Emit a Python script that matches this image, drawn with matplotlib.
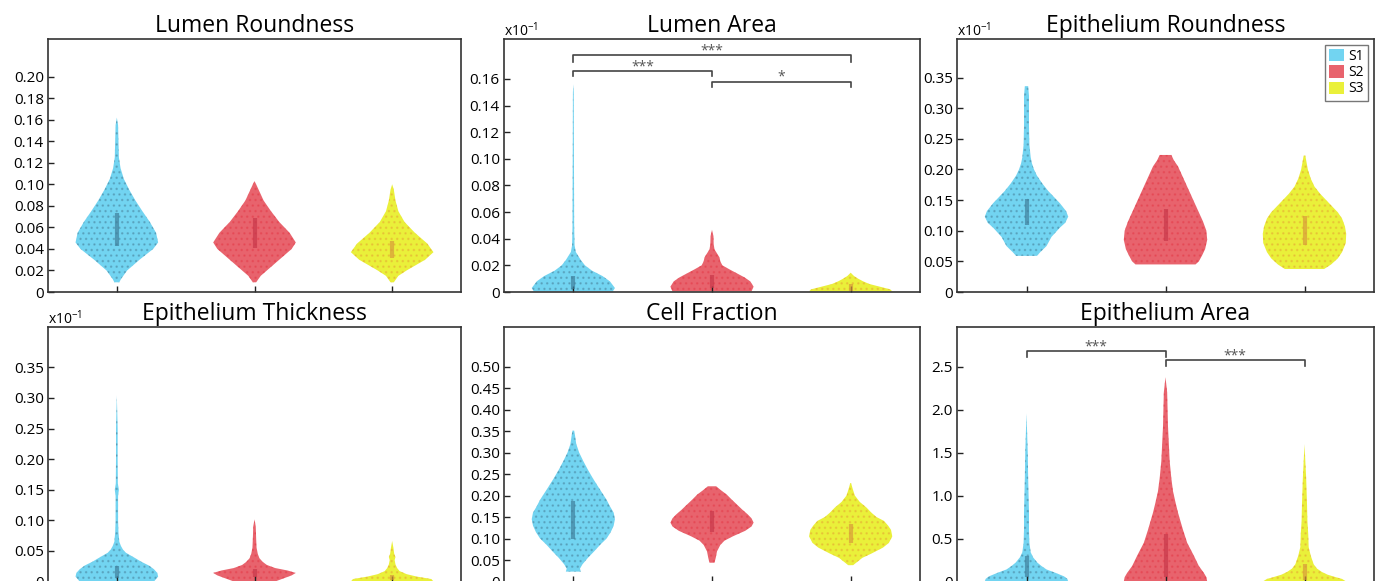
import matplotlib
matplotlib.use("Agg")
import matplotlib.pyplot as plt
from matplotlib.patches import Patch

plt.rcParams['font.family'] = ['Open Sans', 'DejaVu Sans']
plt.rcParams['mathtext.default'] = 'regular'
plt.rcParams['hatch.linewidth'] = 1.0

groups = ['S1', 'S2', 'S3']
colors = ['#72d4f1', '#e8636d', '#eaf03a']
dot_colors = ['#3f6f88', '#e3303f', '#e49532']
bar_colors = ['#3f7f9c', '#c8384a', '#d89a3a']

# violin outlines: (value, relative half width)
lr_s1 = [(0.009, 0.06), (0.012, 0.1), (0.02, 0.25), (0.03, 0.55), (0.04, 0.88), (0.046, 1.0),
         (0.055, 0.95), (0.065, 0.8), (0.075, 0.62), (0.085, 0.45), (0.095, 0.3), (0.105, 0.17),
         (0.115, 0.09), (0.125, 0.05), (0.14, 0.04), (0.155, 0.03), (0.162, 0.0)]
lr_s2 = [(0.009, 0.04), (0.015, 0.15), (0.02, 0.3), (0.03, 0.6), (0.04, 0.9), (0.046, 1.0),
         (0.055, 0.85), (0.065, 0.6), (0.075, 0.4), (0.085, 0.22), (0.095, 0.1), (0.1, 0.04), (0.103, 0.0)]
lr_s3 = [(0.009, 0.04), (0.015, 0.15), (0.02, 0.35), (0.03, 0.8), (0.037, 1.0), (0.045, 0.85),
         (0.055, 0.55), (0.065, 0.3), (0.075, 0.15), (0.085, 0.08), (0.095, 0.04), (0.1, 0.0)]

la_s1 = [(0.0005, 0.95), (0.003, 1.0), (0.008, 0.88), (0.012, 0.7), (0.016, 0.45), (0.02, 0.28),
         (0.024, 0.18), (0.027, 0.12), (0.03, 0.06), (0.035, 0.03), (0.05, 0.02), (0.1, 0.015),
         (0.15, 0.01), (0.156, 0.0)]
la_s2 = [(0.0005, 0.95), (0.004, 1.0), (0.008, 0.92), (0.011, 0.78), (0.014, 0.6), (0.017, 0.42),
         (0.02, 0.25), (0.023, 0.2), (0.026, 0.18), (0.029, 0.12), (0.032, 0.06), (0.036, 0.04),
         (0.042, 0.035), (0.0467, 0.0)]
la_s3 = [(0.0005, 1.0), (0.002, 0.95), (0.004, 0.7), (0.006, 0.45), (0.008, 0.3), (0.010, 0.18),
         (0.012, 0.08), (0.0145, 0.0)]

er_s1 = [(0.059, 0.25), (0.065, 0.33), (0.075, 0.48), (0.09, 0.6), (0.105, 0.8), (0.113, 0.93),
         (0.123, 1.0), (0.132, 0.95), (0.145, 0.8), (0.155, 0.66), (0.165, 0.52), (0.177, 0.38),
         (0.19, 0.25), (0.2, 0.18), (0.21, 0.13), (0.22, 0.1), (0.24, 0.07), (0.27, 0.06),
         (0.3, 0.06), (0.32, 0.06), (0.336, 0.04)]
er_s2 = [(0.045, 0.72), (0.05, 0.8), (0.06, 0.88), (0.07, 0.95), (0.085, 1.0), (0.1, 0.98),
         (0.115, 0.9), (0.13, 0.8), (0.145, 0.7), (0.16, 0.6), (0.175, 0.5), (0.19, 0.4),
         (0.205, 0.3), (0.215, 0.2), (0.2237, 0.14)]
er_s3 = [(0.0375, 0.47), (0.045, 0.64), (0.055, 0.8), (0.065, 0.9), (0.08, 0.99), (0.095, 1.0),
         (0.107, 0.97), (0.12, 0.9), (0.13, 0.8), (0.14, 0.66), (0.15, 0.52), (0.16, 0.38),
         (0.172, 0.24), (0.185, 0.15), (0.2, 0.08), (0.215, 0.04), (0.2227, 0.02)]

et_s1 = [(0.0, 0.9), (0.008, 1.0), (0.014, 0.98), (0.02, 0.9), (0.026, 0.78), (0.032, 0.6),
         (0.04, 0.4), (0.047, 0.22), (0.052, 0.15), (0.058, 0.1), (0.065, 0.06), (0.08, 0.04),
         (0.1, 0.03), (0.14, 0.03), (0.15, 0.05), (0.16, 0.025), (0.2, 0.02), (0.25, 0.02), (0.304, 0.0)]
et_s2 = [(0.0, 0.5), (0.005, 0.7), (0.01, 0.9), (0.014, 1.0), (0.018, 0.8), (0.022, 0.5),
         (0.027, 0.3), (0.032, 0.2), (0.038, 0.12), (0.045, 0.08), (0.055, 0.05), (0.07, 0.04),
         (0.09, 0.03), (0.1016, 0.0)]
et_s3 = [(0.0, 1.0), (0.004, 0.95), (0.008, 0.6), (0.012, 0.35), (0.017, 0.18), (0.022, 0.12),
         (0.028, 0.08), (0.035, 0.06), (0.04, 0.08), (0.045, 0.05), (0.055, 0.03), (0.0663, 0.0)]

cf_s1 = [(0.023, 0.18), (0.03, 0.16), (0.04, 0.22), (0.055, 0.35), (0.07, 0.5), (0.086, 0.65),
         (0.1, 0.8), (0.115, 0.9), (0.13, 0.97), (0.145, 1.0), (0.16, 0.97), (0.175, 0.88),
         (0.19, 0.8), (0.205, 0.7), (0.22, 0.6), (0.24, 0.47), (0.26, 0.35), (0.28, 0.24),
         (0.3, 0.14), (0.32, 0.07), (0.34, 0.04), (0.351, 0.02)]
cf_s2 = [(0.0437, 0.06), (0.055, 0.09), (0.07, 0.12), (0.085, 0.2), (0.095, 0.3), (0.105, 0.5),
         (0.118, 0.8), (0.128, 0.95), (0.137, 1.0), (0.147, 0.95), (0.156, 0.86), (0.167, 0.73),
         (0.179, 0.6), (0.19, 0.48), (0.2026, 0.35), (0.212, 0.22), (0.2215, 0.1)]
cf_s3 = [(0.038, 0.06), (0.045, 0.15), (0.055, 0.28), (0.065, 0.5), (0.079, 0.78), (0.09, 0.92),
         (0.105, 1.0), (0.12, 0.97), (0.13, 0.9), (0.141, 0.8), (0.15, 0.62), (0.16, 0.5),
         (0.172, 0.38), (0.185, 0.22), (0.2, 0.1), (0.215, 0.05), (0.229, 0.01)]

ea_s1 = [(0.0, 1.0), (0.03, 0.98), (0.06, 0.9), (0.1, 0.7), (0.14, 0.48), (0.18, 0.36),
         (0.22, 0.26), (0.28, 0.16), (0.34, 0.1), (0.45, 0.07), (0.6, 0.06), (0.8, 0.06),
         (1.0, 0.05), (1.2, 0.04), (1.5, 0.03), (1.954, 0.0)]
ea_s2 = [(0.0, 1.0), (0.05, 0.98), (0.1, 0.92), (0.18, 0.8), (0.3, 0.68), (0.45, 0.52),
         (0.6, 0.42), (0.7, 0.36), (0.8, 0.3), (0.92, 0.24), (1.05, 0.18), (1.2, 0.14),
         (1.4, 0.1), (1.6, 0.08), (1.8, 0.06), (2.0, 0.05), (2.2, 0.04), (2.375, 0.0)]
ea_s3 = [(0.0, 1.0), (0.03, 0.9), (0.05, 0.75), (0.08, 0.55), (0.11, 0.42), (0.15, 0.3),
         (0.2, 0.22), (0.3, 0.15), (0.4, 0.1), (0.55, 0.09), (0.7, 0.07), (0.9, 0.06),
         (1.2, 0.04), (1.595, 0.0)]

# interquartile bars (low, high) for S1..S3
lr_iqr = [(0.0425, 0.0734), (0.0413, 0.0688), (0.0317, 0.047)]
la_iqr = [(0.002, 0.012), (0.003, 0.013), (0.001, 0.006)]
er_iqr = [(0.109, 0.152), (0.083, 0.135), (0.077, 0.124)]
et_iqr = [(0.006, 0.025), (0.007, 0.02), (0.003, 0.01)]
cf_iqr = [(0.098, 0.187), (0.114, 0.164), (0.09, 0.133)]
ea_iqr = [(0.05, 0.3), (0.05, 0.55), (0.02, 0.2)]

titles = ['Lumen Roundness', 'Lumen Area', 'Epithelium Roundness',
          'Epithelium Thickness', 'Cell Fraction', 'Epithelium Area']
ymax = [0.235, 0.19, 0.413, 0.416, 0.592, 2.96]
yticks = [[0, 0.02, 0.04, 0.06, 0.08, 0.10, 0.12, 0.14, 0.16, 0.18, 0.20],
          [0, 0.02, 0.04, 0.06, 0.08, 0.10, 0.12, 0.14, 0.16],
          [0, 0.05, 0.10, 0.15, 0.20, 0.25, 0.30, 0.35],
          [0, 0.05, 0.10, 0.15, 0.20, 0.25, 0.30, 0.35],
          [0, 0.05, 0.10, 0.15, 0.20, 0.25, 0.30, 0.35, 0.40, 0.45, 0.50],
          [0, 0.5, 1.0, 1.5, 2.0, 2.5]]
tick_fmt = ['%.2f', '%.2f', '%.2f', '%.2f', '%.2f', '%.1f']
show_exp = [False, True, True, True, False, False]

violins = [[lr_s1, lr_s2, lr_s3], [la_s1, la_s2, la_s3], [er_s1, er_s2, er_s3],
           [et_s1, et_s2, et_s3], [cf_s1, cf_s2, cf_s3], [ea_s1, ea_s2, ea_s3]]
iqrs = [lr_iqr, la_iqr, er_iqr, et_iqr, cf_iqr, ea_iqr]

# significance brackets: (panel, x1, x2, y line, y drop, stars)
brackets = [(1, 1, 3, 0.178, 0.173, '***'),
            (1, 1, 2, 0.166, 0.162, '***'),
            (1, 2, 3, 0.158, 0.154, '*'),
            (5, 1, 2, 2.683, 2.61, '***'),
            (5, 2, 3, 2.578, 2.508, '***')]

W, H = 1379, 581
fig = plt.figure(figsize=(W / 100, H / 100), dpi=100)
lefts = [48, 504, 957]
widths = [413, 416, 417]
rows = [(39, 292), (327, 581.5)]

axes = []
for r, (top, bot) in enumerate(rows):
    for c in range(3):
        ax = fig.add_axes([lefts[c] / W, 1 - bot / H, widths[c] / W, (bot - top) / H])
        axes.append(ax)

for i, ax in enumerate(axes):
    for k in range(3):
        ys = [p[0] for p in violins[i][k]]
        ws = [0.3 * p[1] for p in violins[i][k]]
        pos = k + 1
        ax.fill_betweenx(ys, [pos - w for w in ws], [pos + w for w in ws],
                         facecolor=colors[k], edgecolor='none', lw=0)
        ax.fill_betweenx(ys, [pos - w for w in ws], [pos + w for w in ws],
                         facecolor='none', edgecolor=dot_colors[k], lw=0, hatch='...', alpha=0.35)
        lo, hi = iqrs[i][k]
        ax.plot([pos, pos], [lo, hi], color=bar_colors[k], lw=3, alpha=0.7, solid_capstyle='butt')
    ax.set_xlim(0.5, 3.5)
    ax.set_ylim(0, ymax[i])
    ax.set_xticks([1, 2, 3])
    ax.set_xticklabels([])
    ax.set_yticks(yticks[i])
    ax.set_yticklabels(['0' if v == 0 else tick_fmt[i] % v for v in yticks[i]], fontsize=11)
    ax.tick_params(direction='in', length=4.5, width=1.0, color='#222222', pad=3)
    for s in ax.spines.values():
        s.set_linewidth(1.2)
        s.set_color('#333333')
    ax.set_title(titles[i], fontsize=16.5, pad=5)
    if show_exp[i]:
        ax.text(0, 1.012, 'x10$^{-1}$', transform=ax.transAxes, fontsize=10,
                ha='left', va='baseline')

for p, x1, x2, yl, yd, stars in brackets:
    ax = axes[p]
    ax.plot([x1, x1, x2, x2], [yd, yl, yl, yd], color='#444444', lw=1.2)
    ax.annotate(stars, xy=((x1 + x2) / 2, yl), xytext=(0, 3), textcoords='offset points',
                ha='center', va='center', fontsize=10, color='#555555')

handles = [Patch(facecolor=colors[k], edgecolor='none', label=groups[k]) for k in range(3)]
leg = axes[2].legend(handles=handles, loc='upper right', fontsize=10, frameon=True, fancybox=False,
                     edgecolor='#555555', handlelength=1.1, handleheight=1.0, handletextpad=0.3,
                     labelspacing=0.1, borderpad=0.3, borderaxespad=0.4)
leg.get_frame().set_linewidth(1.0)

fig.savefig('out.png', dpi=100)
